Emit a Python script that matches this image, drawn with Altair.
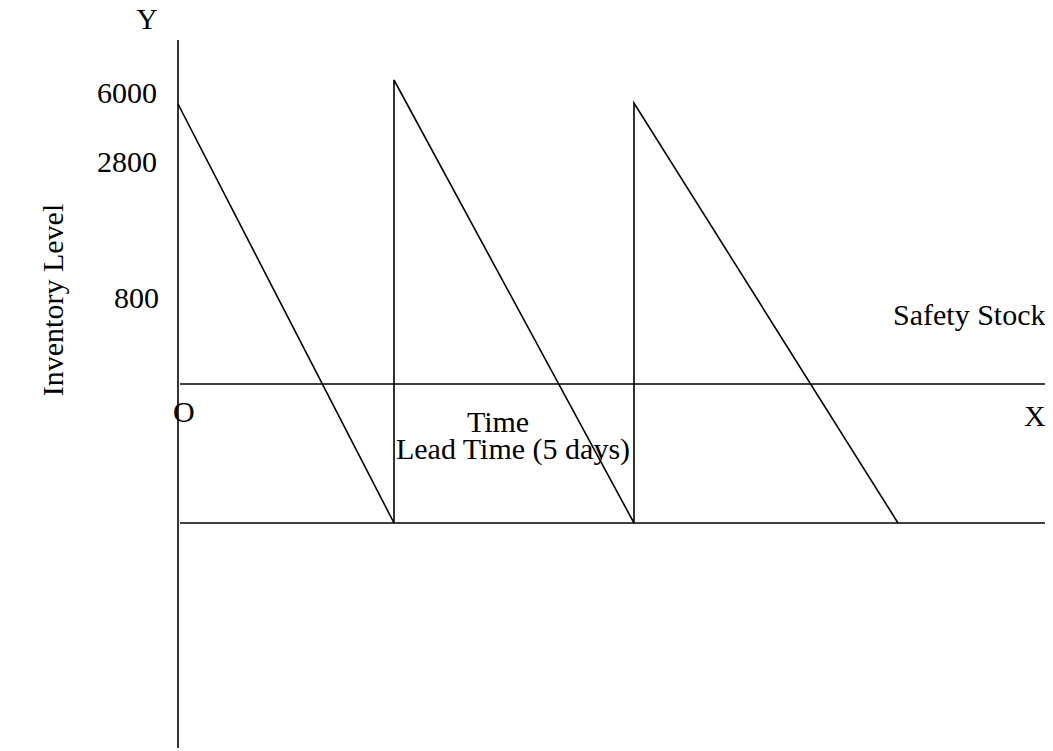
import altair as alt
import pandas as pd

# Diagram coordinates (abstract units: time across, inventory level up)
saw_time = [170, 386, 386, 626, 626, 890]
saw_level = [644, 225, 668, 225, 645, 225]

# Reference lines: y-axis, upper line (x-axis), lower line (safety stock)
rule_x = [170, 172, 172]
rule_x2 = [170, 1037, 1037]
rule_y = [708, 364, 225]
rule_y2 = [0, 364, 225]

# Text labels
label_text = ["Y", "6000", "2800", "800", "Safety Stock", "O", "X", "Time", "Lead Time (5 days)"]
label_x = [139, 149, 149, 151, 885, 165, 1016, 490, 505]
label_y = [719, 645, 576, 440, 423, 326, 322, 316, 289]
label_align = ["center", "right", "right", "right", "left", "left", "left", "center", "center"]

axis_title = "Inventory Level"
axis_title_x = [55]
axis_title_y = [448]

W, H = 1037, 740
xs = alt.Scale(domain=[0, W], range=[0, W])
ys = alt.Scale(domain=[0, H])

saw_df = pd.DataFrame({"t": saw_time, "lvl": saw_level, "o": list(range(len(saw_time)))})
rule_df = pd.DataFrame({"x": rule_x, "x2": rule_x2, "y": rule_y, "y2": rule_y2})
lab_df = pd.DataFrame({"txt": label_text, "x": label_x, "y": label_y, "al": label_align})
title_df = pd.DataFrame({"txt": [axis_title], "x": axis_title_x, "y": axis_title_y})

FONT = "Liberation Serif"
SIZE = 30
SW = 1.6

saw = alt.Chart(saw_df).mark_line(color="black", strokeWidth=SW).encode(
    x=alt.X("t:Q", scale=xs, axis=None),
    y=alt.Y("lvl:Q", scale=ys, axis=None),
    order="o:Q",
)

rules = alt.Chart(rule_df).mark_rule(color="black", strokeWidth=SW).encode(
    x=alt.X("x:Q", scale=xs, axis=None),
    x2="x2:Q",
    y=alt.Y("y:Q", scale=ys, axis=None),
    y2="y2:Q",
)

layers = [rules, saw]
for al in ["left", "center", "right"]:
    sub = lab_df[lab_df["al"] == al]
    layers.append(
        alt.Chart(sub).mark_text(
            font=FONT, fontSize=SIZE, color="black", align=al, baseline="alphabetic"
        ).encode(
            x=alt.X("x:Q", scale=xs, axis=None),
            y=alt.Y("y:Q", scale=ys, axis=None),
            text="txt:N",
        )
    )

layers.append(
    alt.Chart(title_df).mark_text(
        font=FONT, fontSize=SIZE, color="black", align="center",
        baseline="alphabetic", angle=270
    ).encode(
        x=alt.X("x:Q", scale=xs, axis=None),
        y=alt.Y("y:Q", scale=ys, axis=None),
        text="txt:N",
    )
)

chart = alt.layer(*layers).properties(
    width=W, height=H, padding=0,
    autosize=alt.AutoSizeParams(type="none"),
    background="white",
).configure_view(stroke=None)

chart.save("out.html", embed_options={"renderer": "svg", "actions": False})
